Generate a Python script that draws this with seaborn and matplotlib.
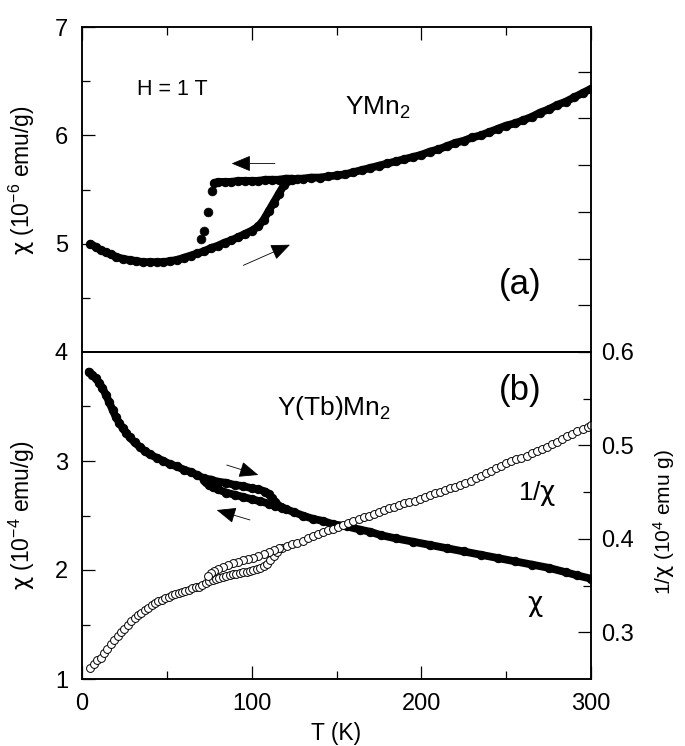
import matplotlib
matplotlib.use("Agg")
import matplotlib.pyplot as plt
import numpy as np
import pandas as pd
import seaborn as sns

# ---------------- data ----------------
# (a) YMn2, chi in 1e-6 emu/g
a_heat_T = [5, 8, 11, 14, 17, 20, 24, 28, 32, 36, 40, 44, 48, 52, 56, 60, 64, 68, 72, 76,
            80, 84, 88, 92, 96, 100, 104, 107, 110, 113, 116, 119, 121, 124, 127, 130, 135,
            140, 145, 150, 155, 160, 165, 170, 175, 180, 185, 190, 195, 200, 205, 210, 215,
            220, 225, 230, 235, 240, 245, 250, 255, 260, 265, 270, 275, 280, 285, 290, 295, 300]
a_heat_chi = [5.00, 4.97, 4.94, 4.92, 4.90, 4.88, 4.86, 4.85, 4.84, 4.83, 4.83, 4.83, 4.83, 4.84,
              4.85, 4.87, 4.89, 4.91, 4.93, 4.96, 4.98, 5.01, 5.03, 5.06, 5.09, 5.12, 5.16, 5.22,
              5.30, 5.38, 5.46, 5.54, 5.58, 5.59, 5.60, 5.60, 5.61, 5.61, 5.62, 5.63, 5.64, 5.66,
              5.68, 5.70, 5.72, 5.74, 5.76, 5.78, 5.80, 5.82, 5.85, 5.87, 5.90, 5.93, 5.95, 5.98,
              6.00, 6.03, 6.06, 6.09, 6.11, 6.14, 6.17, 6.21, 6.24, 6.28, 6.31, 6.35, 6.39, 6.43]
a_cool_T = [124, 120, 116, 112, 108, 104, 100, 96, 92, 88, 84, 80, 78]
a_cool_chi = [5.60, 5.60, 5.59, 5.59, 5.59, 5.58, 5.58, 5.58, 5.58, 5.57, 5.57, 5.57, 5.56]
a_jump_T = [76.4, 74.5, 72.1, 70.1]
a_jump_chi = [5.49, 5.29, 5.12, 5.04]

# (b) Y(Tb)Mn2, chi in 1e-4 emu/g
b_heat_T = [4, 6, 8, 10, 12, 14, 16, 18, 20, 22, 24, 26, 28, 31, 34, 37, 40, 44, 48, 52, 56,
            60, 64, 68, 72, 76, 80, 85, 90, 95, 100, 104, 108, 110, 112, 114, 117, 120, 125,
            130, 136, 142, 148, 156, 164, 170, 176, 185, 195, 205, 215, 225, 235, 245, 255,
            265, 275, 285, 292, 300]
b_heat_chi = [3.82, 3.79, 3.76, 3.72, 3.67, 3.61, 3.54, 3.47, 3.40, 3.35, 3.30, 3.26, 3.22,
              3.17, 3.13, 3.09, 3.06, 3.03, 3.00, 2.97, 2.95, 2.92, 2.90, 2.87, 2.84, 2.83,
              2.81, 2.80, 2.78, 2.77, 2.75, 2.74, 2.72, 2.70, 2.66, 2.62, 2.58, 2.56, 2.53,
              2.50, 2.47, 2.45, 2.42, 2.40, 2.37, 2.35, 2.32, 2.29, 2.26, 2.23, 2.20, 2.17,
              2.14, 2.11, 2.08, 2.05, 2.02, 1.98, 1.95, 1.92]
b_cool_T = [118, 114, 110, 105, 100, 95, 90, 85, 80, 77, 75, 73, 72]
b_cool_chi = [2.57, 2.59, 2.61, 2.63, 2.65, 2.67, 2.69, 2.71, 2.74, 2.76, 2.78, 2.81, 2.83]

# 1/chi in 1e4 emu g
inv_heat_T = [5, 7, 9, 11, 13, 15, 17, 19, 21, 23, 25, 27, 29, 31, 33, 35, 37, 39, 41, 43, 45,
              47, 49, 51, 53, 55, 57, 59, 61, 63, 65, 67, 69, 71, 73, 75, 77, 79, 81, 83, 85,
              87, 89, 91, 93, 95, 97, 99, 101, 103, 105, 107, 109, 111, 113, 115, 118, 121,
              124, 127, 130, 133, 136, 139, 142, 145, 148, 151, 154, 157, 160, 163, 166, 169,
              172, 175, 178, 181, 184, 187, 190, 193, 196, 199, 202, 205, 208, 211, 214, 217,
              220, 223, 226, 229, 232, 235, 238, 241, 244, 247, 250, 253, 256, 259, 262, 265,
              268, 271, 274, 277, 280, 283, 286, 289, 292, 295, 298, 300]
inv_heat = [0.262, 0.266, 0.270, 0.273, 0.278, 0.282, 0.287, 0.292, 0.296, 0.300, 0.304, 0.308,
            0.312, 0.315, 0.318, 0.321, 0.324, 0.326, 0.329, 0.331, 0.333, 0.335, 0.337, 0.338,
            0.340, 0.341, 0.342, 0.343, 0.344, 0.345, 0.347, 0.348, 0.349, 0.351, 0.353, 0.355,
            0.356, 0.357, 0.358, 0.359, 0.360, 0.361, 0.362, 0.362, 0.363, 0.364, 0.365, 0.366,
            0.367, 0.368, 0.369, 0.371, 0.373, 0.377, 0.382, 0.386, 0.390, 0.392, 0.394, 0.396,
            0.398, 0.401, 0.403, 0.405, 0.407, 0.409, 0.411, 0.413, 0.415, 0.417, 0.419, 0.421,
            0.423, 0.425, 0.427, 0.429, 0.431, 0.433, 0.434, 0.436, 0.438, 0.439, 0.441, 0.443,
            0.445, 0.447, 0.449, 0.450, 0.452, 0.454, 0.456, 0.458, 0.460, 0.462, 0.465, 0.467,
            0.470, 0.473, 0.476, 0.478, 0.481, 0.483, 0.485, 0.487, 0.489, 0.492, 0.494, 0.496,
            0.498, 0.501, 0.504, 0.507, 0.510, 0.512, 0.515, 0.518, 0.520, 0.522]
inv_cool_T = [116, 113, 110, 107, 104, 101, 98, 95, 92, 89, 86, 83, 80, 78, 76, 74]
inv_cool = [0.390, 0.388, 0.386, 0.384, 0.382, 0.380, 0.378, 0.377, 0.375, 0.374, 0.372, 0.370,
            0.368, 0.366, 0.363, 0.360]

# ---------------- style ----------------
sns.set_theme(style="ticks")
plt.rcParams.update({
    "font.family": ["Liberation Sans", "DejaVu Sans"],
    "mathtext.fontset": "custom",
    "mathtext.rm": "Liberation Sans",
    "mathtext.it": "Liberation Sans:italic",
    "mathtext.bf": "Liberation Sans:bold",
    "mathtext.sf": "DejaVu Sans",
    "axes.linewidth": 1.1,
    "axes.edgecolor": "black",
    "xtick.direction": "in",
    "ytick.direction": "in",
    "xtick.color": "black",
    "ytick.color": "black",
    "text.color": "black",
    "axes.labelcolor": "black",
})

CHI = r"$\mathsf{χ}$"
FS_TICK = 17
FS_LAB = 16.5

fig = plt.figure(figsize=(6.85, 7.46), dpi=100)
L = 82 / 685
W = 509 / 685
top1 = 1 - 27 / 746
mid = 1 - 352 / 746
bot = 1 - 679 / 746
H1 = top1 - mid
H2 = mid - bot
ax1 = fig.add_axes([L, mid, W, H1])
ax2 = fig.add_axes([L, bot, W, H2])

line_kw = dict(color="black", linewidth=5.6, marker="o", markersize=6.0,
               markeredgecolor="black", estimator=None, sort=False, legend=False)

# ---------------- panel (a) ----------------
sns.lineplot(data=pd.DataFrame({"T": a_heat_T, "chi": a_heat_chi}), x="T", y="chi", ax=ax1, **line_kw)
sns.lineplot(data=pd.DataFrame({"T": a_cool_T, "chi": a_cool_chi}), x="T", y="chi", ax=ax1, **line_kw)
sns.scatterplot(data=pd.DataFrame({"T": a_jump_T, "chi": a_jump_chi}), x="T", y="chi", ax=ax1,
                color="black", s=40, edgecolor="black", legend=False)

ax1.set_xlim(0, 300)
ax1.set_ylim(4, 7)
ax1.set_xticks([0, 100, 200, 300])
ax1.set_xticks([50, 150, 250], minor=True)
ax1.set_yticks([4, 5, 6, 7])
ax1.set_yticks([4.5, 5.5, 6.5], minor=True)
ax1.tick_params(axis="x", which="both", bottom=False, top=True, labelbottom=False, labeltop=False)
ax1.tick_params(axis="y", which="both", left=True, right=False, labelsize=FS_TICK, pad=10)
ax1.tick_params(which="major", length=9.5, width=0.9)
ax1.tick_params(which="minor", length=5.5, width=0.9)
ax1.set_xlabel("")
ax1.set_ylabel(CHI + r" (10$^{\mathregular{-6}}$ emu/g)", fontsize=FS_LAB)
ax1.yaxis.set_label_coords(-0.089, 0.53)

ax1r = ax1.twinx()
ax1r.set_ylim(0.6, 0.6 + 0.35 * H1 / H2)
ax1r.set_yticks([0.65, 0.7, 0.75, 0.8, 0.85, 0.9])
ax1r.tick_params(axis="y", which="both", right=True, left=False, labelright=False,
                 length=9.5, width=0.9, direction="in")

ax1.text(32.4, 6.42, "H = 1 T", fontsize=15.5, ha="left", va="center")
ax1.text(155, 6.19, r"YMn$_{\mathregular{2}}$", fontsize=19, ha="left", va="baseline")
ax1.text(258, 4.62, "(a)", fontsize=25, ha="center", va="center")

arr = dict(arrowstyle="-|>,head_length=0.6,head_width=0.25", color="black", lw=0.6,
           shrinkA=0, shrinkB=0, mutation_scale=20)
ax1.annotate("", xy=(88.2, 5.74), xytext=(113.7, 5.74), arrowprops=arr)
ax1.annotate("", xy=(122.6, 4.99), xytext=(95.1, 4.80), arrowprops=arr)

# ---------------- panel (b) ----------------
sns.lineplot(data=pd.DataFrame({"T": b_heat_T, "chi": b_heat_chi}), x="T", y="chi", ax=ax2, **line_kw)
sns.lineplot(data=pd.DataFrame({"T": b_cool_T, "chi": b_cool_chi}), x="T", y="chi", ax=ax2, **line_kw)

ax2.set_xlim(0, 300)
ax2.set_ylim(1, 4)
ax2.set_xticks([0, 100, 200, 300])
ax2.set_xticks([50, 150, 250], minor=True)
ax2.set_yticks([1, 2, 3])
ax2.set_yticks([1.5, 2.5, 3.5], minor=True)
ax2.tick_params(axis="x", which="both", bottom=True, top=False, labelsize=FS_TICK, pad=10)
ax2.tick_params(axis="y", which="both", left=True, right=False, labelsize=FS_TICK, pad=10)
ax2.tick_params(which="major", length=9.5, width=0.9)
ax2.tick_params(which="minor", length=5.5, width=0.9)
ax2.set_xlabel("T (K)", fontsize=FS_LAB)
ax2.xaxis.set_label_coords(0.5, -0.13)
ax2.set_ylabel(CHI + r" (10$^{\mathregular{-4}}$ emu/g)", fontsize=FS_LAB)
ax2.yaxis.set_label_coords(-0.089, 0.50)

ax2r = ax2.twinx()
inv_df = pd.concat([pd.DataFrame({"T": inv_heat_T, "inv": inv_heat}),
                    pd.DataFrame({"T": inv_cool_T, "inv": inv_cool})])
sns.scatterplot(data=inv_df, x="T", y="inv", ax=ax2r, marker="o", s=32,
                facecolor="white", edgecolor="black", linewidth=0.7, legend=False)
ax2r.set_ylim(0.25, 0.6)
ax2r.set_yticks([0.3, 0.4, 0.5, 0.6])
ax2r.set_yticks([0.35, 0.45, 0.55], minor=True)
ax2r.tick_params(axis="y", which="both", right=True, left=False, labelright=True,
                 labelsize=FS_TICK, pad=7, direction="in")
ax2r.tick_params(which="major", length=9.5, width=0.9)
ax2r.tick_params(which="minor", length=5.5, width=0.9)
ax2r.set_ylabel("1/" + CHI + r" (10$^{\mathregular{4}}$ emu g)", fontsize=15)
ax2r.yaxis.set_label_coords(1.118, 0.48)
ax2r.set_xlabel("")

ax2.text(115, 3.42, r"Y(Tb)Mn$_{\mathregular{2}}$", fontsize=19, ha="left", va="baseline")
ax2.text(258, 3.65, "(b)", fontsize=25, ha="center", va="center")
ax2.text(257, 2.64, "1/" + CHI, fontsize=19, ha="left", va="baseline")
ax2.text(262, 1.62, CHI, fontsize=19, ha="left", va="baseline")

ax2.annotate("", xy=(103.9, 2.872), xytext=(85.3, 2.963), arrowprops=arr)
ax2.annotate("", xy=(79.4, 2.55), xytext=(99.0, 2.459), arrowprops=arr)

for a in (ax1, ax2, ax1r, ax2r):
    for s in a.spines.values():
        s.set_visible(True)
        s.set_linewidth(1.1)
        s.set_color("black")

fig.savefig("out.png", dpi=100)
